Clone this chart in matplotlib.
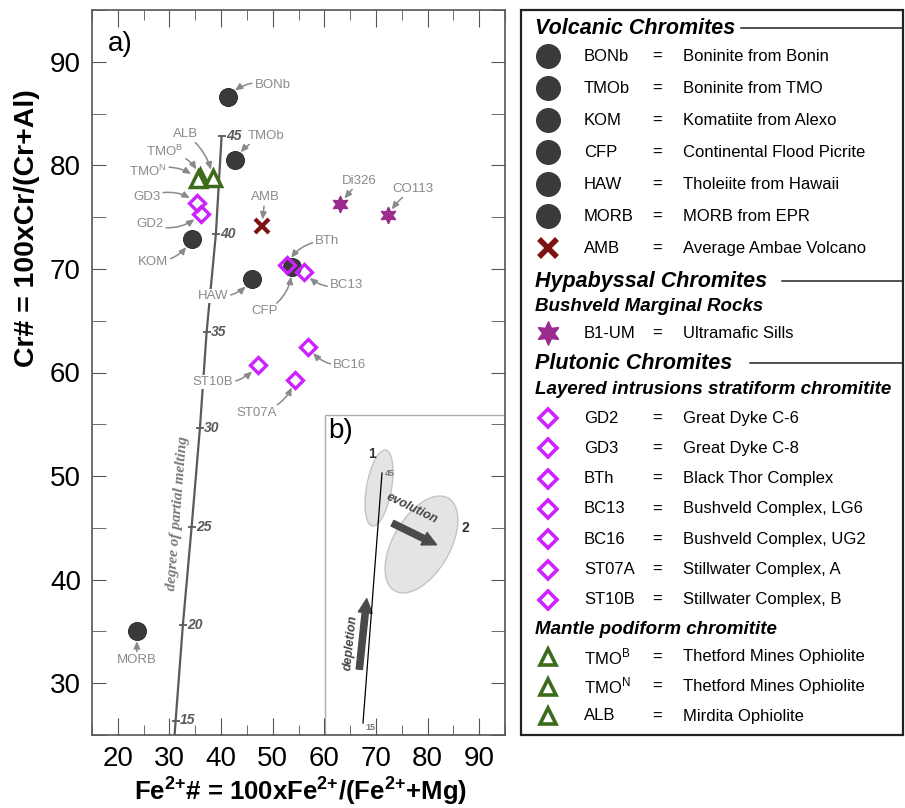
import matplotlib.pyplot as plt
from matplotlib.patches import Ellipse, Rectangle, FancyArrowPatch
from matplotlib.ticker import MultipleLocator

plt.rcParams['font.family'] = ['Liberation Sans', 'DejaVu Sans']

W, H = 905, 808
fig = plt.figure(figsize=(W / 100, H / 100), dpi=100)
fig.patch.set_facecolor('white')


def px_box(x0, y0, x1, y1):
    # figure-fraction rectangle from pixel corners (y measured from top)
    return [x0 / W, 1 - y1 / H, (x1 - x0) / W, (y1 - y0) / H]


# ── data (Fe2+#, Cr#) ───────────────────────────────────────────
circle_codes = ['BONb', 'TMOb', 'KOM', 'CFP', 'HAW', 'MORB']
circle_names = ['Boninite from Bonin', 'Boninite from TMO', 'Komatiite from Alexo',
                'Continental Flood Picrite', 'Tholeiite from Hawaii', 'MORB from EPR']
circle_fe = [41.3, 42.7, 34.3, 53.7, 46.0, 23.7]
circle_cr = [86.6, 80.5, 72.9, 70.2, 69.0, 35.0]

amb_code, amb_name = 'AMB', 'Average Ambae Volcano'
amb_fe = [47.9]
amb_cr = [74.1]

star_codes = ['Di326', 'CO113']
star_fe = [63.0, 72.3]
star_cr = [76.3, 75.2]
hyp_code, hyp_name = 'B1-UM', 'Ultramafic Sills'

diamond_codes = ['GD2', 'GD3', 'BTh', 'BC13', 'BC16', 'ST07A', 'ST10B']
diamond_names = ['Great Dyke C-6', 'Great Dyke C-8', 'Black Thor Complex',
                 'Bushveld Complex, LG6', 'Bushveld Complex, UG2',
                 'Stillwater Complex, A', 'Stillwater Complex, B']
diamond_fe = [36.1, 35.3, 52.7, 56.0, 56.8, 54.3, 47.1]
diamond_cr = [75.3, 76.4, 70.4, 69.7, 62.5, 59.3, 60.7]

tri_codes = ['TMO$^\\mathregular{B}$', 'TMO$^\\mathregular{N}$', 'ALB']
tri_names = ['Thetford Mines Ophiolite', 'Thetford Mines Ophiolite', 'Mirdita Ophiolite']
tri_fe = [36.0, 35.5, 38.4]
tri_cr = [78.9, 78.7, 78.8]

# degree of partial melting trend
melt_deg = [15, 20, 25, 30, 35, 40, 45]
melt_fe = [31.2, 32.6, 34.3, 35.9, 37.2, 39.0, 40.1]
melt_cr = [26.4, 35.6, 45.1, 54.6, 63.9, 73.4, 82.8]
melt_start = (31.0, 25.0)

C_CIRC = '#3a3a3a'
C_X = '#7d1212'
C_STAR = '#9b2b8e'
C_DIAM = '#cc22ff'
C_TRI = '#3d6b1c'
C_LAB = '#8a8a8a'

# ── main panel ──────────────────────────────────────────────────
ax = fig.add_axes(px_box(92, 10, 505, 735))
ax.set_xlim(15, 95)
ax.set_ylim(25, 95)
ax.xaxis.set_major_locator(MultipleLocator(10))
ax.xaxis.set_minor_locator(MultipleLocator(5))
ax.yaxis.set_major_locator(MultipleLocator(10))
ax.yaxis.set_minor_locator(MultipleLocator(5))
ax.tick_params(which='both', direction='in', top=True, right=True,
               labelsize=20, color='#555555', pad=8)
ax.tick_params(axis='x', which='major', length=12)
ax.tick_params(axis='x', which='minor', length=7)
ax.tick_params(axis='y', which='both', length=10)
for s in ax.spines.values():
    s.set_color('#555555')
    s.set_linewidth(1.2)

sup = '$^{\\mathregular{2{+}}}$'
fig.text(300 / W, 1 - 791 / H, f'Fe{sup}# = 100xFe{sup}/(Fe{sup}+Mg)',
         ha='center', va='center', fontsize=18.5, fontweight='bold')
fig.text(27 / W, 1 - 228 / H, 'Cr# = 100xCr/(Cr+Al)', rotation=90,
         ha='center', va='center', fontsize=20.5, fontweight='bold')

# inset background (drawn under the main ticks)
ax.add_patch(Rectangle((60.1, 25), 95 - 60.1, 55.9 - 25, facecolor='white',
                       edgecolor='#aaaaaa', lw=1.0, zorder=0.5))

# melting trend
ax.plot([melt_start[0]] + melt_fe, [melt_start[1]] + melt_cr,
        color='#5a5a5a', lw=1.6, zorder=1)
ax.plot(melt_fe, melt_cr, ls='none', marker='_', ms=6, mew=1.3,
        color='#5a5a5a', zorder=1)
for d, fx, cy in zip(melt_deg, melt_fe, melt_cr):
    ax.annotate(str(d), (fx, cy), xytext=(3, 0), textcoords='offset points',
                ha='left', va='center', fontsize=10, fontweight='bold',
                fontstyle='italic', color='#5a5a5a')
ax.text(31.6, 46.4, 'degree of partial melting', rotation=85.5,
        ha='center', va='center', fontsize=11, fontweight='bold',
        fontstyle='italic', family='Liberation Serif', color='#777777')

ax.text(20.4, 91.7, 'a)', fontsize=20, ha='center', va='center')

# markers
ax.plot(circle_fe, circle_cr, 'o', ms=13, color=C_CIRC, mec='#222222', mew=0.6, zorder=3)
ax.plot(amb_fe, amb_cr, 'x', ms=10, mew=3, color=C_X, zorder=3)
ax.plot(star_fe, star_cr, marker=(6, 1, 0), ls='none', ms=12, color=C_STAR, zorder=3)
ax.plot(tri_fe, tri_cr, '^', ms=11, mfc='white', mec=C_TRI, mew=2.5, zorder=4)
ax.plot(diamond_fe, diamond_cr, 'D', ms=8, mfc='none', mec=C_DIAM, mew=2.4, zorder=4)

# labels: (text, point x, point y, text x, text y, rad, shrink)
labels = [
    ('BONb', circle_fe[0], circle_cr[0], 50.0, 87.8, 0.3, 7),
    ('TMOb', circle_fe[1], circle_cr[1], 48.8, 82.8, 0.2, 7),
    ('KOM', circle_fe[2], circle_cr[2], 26.8, 70.7, 0.3, 7),
    ('CFP', circle_fe[3], circle_cr[3], 48.5, 65.9, 0.3, 7),
    ('HAW', circle_fe[4], circle_cr[4], 38.4, 67.4, 0.3, 7),
    ('MORB', circle_fe[5], circle_cr[5], 23.7, 32.2, 0.0, 7),
    ('AMB', amb_fe[0], amb_cr[0], 48.5, 76.9, 0.0, 5),
    ('Di326', star_fe[0], star_cr[0], 66.8, 78.5, 0.0, 5),
    ('CO113', star_fe[1], star_cr[1], 77.1, 77.7, 0.1, 5),
    ('GD2', diamond_fe[0], diamond_cr[0], 26.2, 74.3, 0.3, 6),
    ('GD3', diamond_fe[1], diamond_cr[1], 25.6, 76.9, -0.3, 6),
    ('BTh', diamond_fe[2], diamond_cr[2], 60.6, 72.7, 0.3, 6),
    ('BC13', diamond_fe[3], diamond_cr[3], 64.3, 68.4, -0.3, 6),
    ('BC16', diamond_fe[4], diamond_cr[4], 64.9, 60.7, -0.3, 6),
    ('ST07A', diamond_fe[5], diamond_cr[5], 46.9, 56.1, 0.3, 6),
    ('ST10B', diamond_fe[6], diamond_cr[6], 38.4, 59.1, 0.3, 6),
    (tri_codes[0], tri_fe[0], tri_cr[0], 29.1, 81.3, -0.3, 6),
    (tri_codes[1], tri_fe[1], tri_cr[1], 25.8, 79.4, -0.3, 6),
    (tri_codes[2], tri_fe[2], tri_cr[2], 33.2, 83.0, -0.2, 6),
]
for txt, px, py, tx, ty, rad, shr in labels:
    ax.annotate(txt, (px, py), xytext=(tx, ty), ha='center', va='center',
                fontsize=9.5, color=C_LAB, zorder=5,
                bbox=dict(boxstyle='square,pad=0.1', fc='white', ec='none'),
                arrowprops=dict(arrowstyle='-|>,head_length=0.45,head_width=0.2',
                                color=C_LAB, lw=1.1, shrinkA=1, shrinkB=shr,
                                connectionstyle=f'arc3,rad={rad}'))

# ── inset b) (schematic, in pixel units) ────────────────────────
ai = fig.add_axes(px_box(323, 415, 505, 735))
ai.set_xlim(0, 182)
ai.set_ylim(0, 320)
ai.axis('off')
ai.add_patch(Ellipse((56, 247), 77, 25, angle=80, fc='#e4e4e4', ec='#c4c4c4', lw=1))
ai.add_patch(Ellipse((98.5, 190.5), 107, 57, angle=60, fc='#e4e4e4', ec='#c4c4c4', lw=1))
ai.plot([40, 59], [12, 262], color='black', lw=0.9)
ai.text(62, 262, '45', fontsize=6.5, fontweight='bold', color='#777777', va='center')
ai.text(42, 7, '15', fontsize=6.5, fontweight='bold', color='#777777', va='center')
ai.text(49, 281, '1', fontsize=10, fontweight='bold', color='#333333', ha='center', va='center')
ai.text(142, 207, '2', fontsize=10, fontweight='bold', color='#333333', ha='center', va='center')
ai.text(18, 304, 'b)', fontsize=20, ha='center', va='center')
ai.add_patch(FancyArrowPatch((67, 213), (116, 189), mutation_scale=10, color='#4a4a4a',
             arrowstyle='simple,head_width=1.0,head_length=1.0,tail_width=0.45'))
ai.text(89, 227, 'evolution', rotation=-26, ha='center', va='center', fontsize=9,
        fontweight='bold', fontstyle='italic', color='#444444')
ai.add_patch(FancyArrowPatch((36, 63), (44, 139), mutation_scale=10, color='#4a4a4a',
             arrowstyle='simple,head_width=1.0,head_length=1.0,tail_width=0.45'))
ai.text(28, 92, 'depletion', rotation=84, ha='center', va='center', fontsize=9,
        fontweight='bold', fontstyle='italic', color='#444444')

# ── legend panel (pixel units) ──────────────────────────────────
lg = fig.add_axes(px_box(519, 8, 905, 737))
lg.set_xlim(519, 905)
lg.set_ylim(737, 8)
lg.axis('off')
lg.add_patch(Rectangle((521, 10), 382, 725, fill=False, ec='#222222', lw=1.6))

XM, XC, XE, XD = 548, 584, 657, 683


def header(y, text, size, line_from=None):
    lg.text(535, y, text, fontsize=size, fontweight='bold', fontstyle='italic',
            ha='left', va='center')
    if line_from:
        lg.plot([line_from, 902], [y, y], color='#222222', lw=1.1)


def row(y, code, name):
    lg.text(XC, y, code, fontsize=12, ha='left', va='center')
    lg.text(XE, y, '=', fontsize=12, ha='center', va='center')
    lg.text(XD, y, name, fontsize=12, ha='left', va='center')


header(28, 'Volcanic Chromites', 15.5, 741)
for i, (c, n) in enumerate(zip(circle_codes, circle_names)):
    y = 56 + i * 32
    lg.plot(XM, y, 'o', ms=17, color=C_CIRC)
    row(y, c, n)
lg.plot(XM, 248, 'x', ms=13, mew=4, color=C_X)
row(248, amb_code, amb_name)

header(281, 'Hypabyssal Chromites', 15.5, 782)
header(306, 'Bushveld Marginal Rocks', 13.5)
lg.plot(XM, 333, marker=(6, 1, 0), ms=17, color=C_STAR)
row(333, hyp_code, hyp_name)

header(363, 'Plutonic Chromites', 15.5, 750)
header(389, 'Layered intrusions stratiform chromitite', 13.5)
for i, (c, n) in enumerate(zip(diamond_codes, diamond_names)):
    y = 418 + i * 30.3
    lg.plot(XM, y, 'D', ms=9.5, mfc='white', mec=C_DIAM, mew=2.6)
    row(y, c, n)

header(630, 'Mantle podiform chromitite', 13.5)
for i, (c, n) in enumerate(zip(tri_codes, tri_names)):
    y = 657 + i * 29.5
    lg.plot(XM, y, '^', ms=11, mfc='white', mec=C_TRI, mew=2.6)
    row(y, c, n)

fig.savefig('out.png', dpi=100, facecolor='white')
